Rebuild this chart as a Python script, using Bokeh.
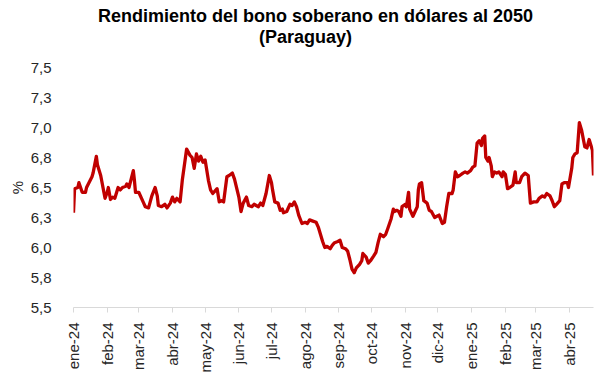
import math
import pandas as pd
from bokeh.plotting import figure
from bokeh.layouts import column
from bokeh.models import FixedTicker, Range1d, ColumnDataSource, Label
from bokeh.embed import file_html
from bokeh.resources import INLINE

start_date = "2024-01-01"

# days since 2024-01-01
day_offset = [
    0, 1, 4, 5, 8, 11, 12, 17, 18, 21,
    22, 25, 29, 31, 32, 34, 36, 38, 41, 43,
    45, 48, 49, 51, 53, 55, 56, 57, 60, 64,
    66, 69, 72, 75, 77, 78, 81, 84, 86, 89,
    91, 93, 95, 98, 100, 104, 107, 109, 111, 113,
    115, 117, 119, 121, 124, 126, 128, 130, 132, 134,
    136, 138, 141, 143, 146, 148, 152, 154, 156, 159,
    161, 164, 166, 170, 172, 174, 177, 180, 182, 183,
    185, 188, 190, 192, 193, 196, 199, 201, 203, 205,
    207, 210, 213, 215, 217, 220, 223, 225, 227, 229,
    231, 233, 236, 238, 240, 243, 245, 247, 250, 252,
    254, 256, 258, 260, 263, 265, 266, 269, 271, 273,
    276, 278, 280, 282, 285, 287, 289, 292, 294, 295,
    297, 299, 301, 302, 305, 306, 308, 309, 312, 314,
    316, 317, 318, 320, 322, 325, 327, 329, 332, 334,
    336, 339, 341, 343, 345, 348, 349, 351, 353, 355,
    358, 360, 362, 365, 367, 369, 371, 373, 375, 376,
    378, 379, 381, 382, 384, 385, 387, 389, 391, 394,
    395, 397, 399, 401, 404, 406, 407, 410, 412, 415,
    418, 420, 423, 426, 428, 431, 433, 435, 438, 440,
    442, 444, 447, 449, 451, 454, 455, 458, 459, 461,
    463, 465, 467, 470, 472, 474, 477, 478,
]

yield_pct = [
    6.29, 6.49, 6.50, 6.54, 6.46, 6.46, 6.50, 6.59, 6.62, 6.76,
    6.69, 6.60, 6.41, 6.46, 6.50, 6.40, 6.42, 6.41, 6.50, 6.48,
    6.50, 6.51, 6.53, 6.50, 6.57, 6.64, 6.56, 6.46, 6.46, 6.38,
    6.34, 6.33, 6.43, 6.50, 6.43, 6.35, 6.34, 6.36, 6.33, 6.37,
    6.42, 6.38, 6.41, 6.38, 6.56, 6.82, 6.77, 6.75, 6.66, 6.78,
    6.72, 6.76, 6.71, 6.73, 6.56, 6.48, 6.45, 6.47, 6.49, 6.38,
    6.39, 6.38, 6.59, 6.60, 6.62, 6.57, 6.42, 6.30, 6.37, 6.42,
    6.35, 6.34, 6.36, 6.34, 6.37, 6.35, 6.45, 6.60, 6.54, 6.48,
    6.38, 6.37, 6.31, 6.32, 6.29, 6.30, 6.36, 6.35, 6.38, 6.34,
    6.27, 6.20, 6.21, 6.20, 6.23, 6.22, 6.21, 6.17, 6.11, 6.05,
    6.00, 6.01, 5.99, 6.02, 6.04, 6.05, 6.06, 6.00, 5.99, 5.97,
    5.90, 5.82, 5.79, 5.83, 5.86, 5.89, 5.95, 5.92, 5.87, 5.89,
    5.93, 5.96, 6.04, 6.11, 6.09, 6.11, 6.16, 6.24, 6.32, 6.30,
    6.31, 6.30, 6.26, 6.34, 6.36, 6.34, 6.46, 6.32, 6.26, 6.30,
    6.34, 6.48, 6.53, 6.54, 6.39, 6.37, 6.31, 6.30, 6.25, 6.26,
    6.27, 6.20, 6.21, 6.34, 6.45, 6.45, 6.48, 6.63, 6.59, 6.60,
    6.62, 6.63, 6.62, 6.64, 6.67, 6.68, 6.87, 6.89, 6.85, 6.91,
    6.93, 6.75, 6.72, 6.75, 6.68, 6.59, 6.63, 6.62, 6.63, 6.59,
    6.63, 6.61, 6.49, 6.50, 6.52, 6.63, 6.54, 6.54, 6.59, 6.62,
    6.60, 6.37, 6.38, 6.38, 6.41, 6.43, 6.42, 6.45, 6.43, 6.39,
    6.34, 6.36, 6.39, 6.53, 6.54, 6.54, 6.50, 6.66, 6.75, 6.78,
    6.79, 7.04, 6.98, 6.84, 6.83, 6.90, 6.81, 6.60,
]

month_ticks = [
    "2024-01-01", "2024-02-01", "2024-03-01", "2024-04-01", "2024-05-01",
    "2024-06-01", "2024-07-01", "2024-08-01", "2024-09-01", "2024-10-01",
    "2024-11-01", "2024-12-01", "2025-01-01", "2025-02-01", "2025-03-01",
    "2025-04-01",
]
month_labels = [
    "ene-24", "feb-24", "mar-24", "abr-24", "may-24", "jun-24", "jul-24",
    "ago-24", "sep-24", "oct-24", "nov-24", "dic-24", "ene-25", "feb-25",
    "mar-25", "abr-25",
]

y_ticks = [5.5, 5.75, 6.0, 6.25, 6.5, 6.75, 7.0, 7.25, 7.5]
y_labels = ["5,5", "5,8", "6,0", "6,3", "6,5", "6,8", "7,0", "7,3", "7,5"]

title_line1 = "Rendimiento del bono soberano en dólares al 2050"
title_line2 = "(Paraguay)"

FONT = "Liberation Sans"
TXT = "#262626"
W = 600
TITLE_H = 55
BORDER_L, BORDER_R = 73, 7

# ---------- title strip (its own small svg figure, no axes) ----------
# In a column, Bokeh aligns this frame with the chart frame below it,
# so its x range spans the same pixels as that frame.
pt = figure(width=W, height=TITLE_H,
            x_range=Range1d(BORDER_L, W - BORDER_R), y_range=Range1d(0, TITLE_H),
            x_axis_location=None, y_axis_location=None,
            output_backend="svg", toolbar_location=None, min_border=0)
pt.xgrid.visible = False
pt.ygrid.visible = False
pt.outline_line_color = None
for txt, xpos, ypos in ((title_line1, 315, 40), (title_line2, 305, 19)):
    pt.add_layout(Label(x=xpos, y=ypos, text=txt, text_align="center",
                        text_baseline="middle", text_font=FONT,
                        text_font_size="18px", text_font_style="bold",
                        text_color="#000000"))

# ---------- main chart ----------
dates = pd.Timestamp(start_date) + pd.to_timedelta(day_offset, unit="D")
src = ColumnDataSource(dict(date=dates, y=yield_pct))

def to_ms(ts):
    return int(pd.Timestamp(ts).value // 10**6)

x_start = to_ms(start_date)
x_end = to_ms(dates[-1])

p = figure(
    width=W, height=375 - TITLE_H,
    x_axis_type="datetime",
    x_range=Range1d(x_start, x_end),
    y_range=Range1d(y_ticks[0], y_ticks[-1]),
    output_backend="svg",
    toolbar_location=None,
    min_border_left=BORDER_L, min_border_right=BORDER_R,
    min_border_top=12, min_border_bottom=68,
)

p.line("date", "y", source=src, line_color="#C00000", line_width=3.3,
       line_join="round")

p.outline_line_color = None
p.xgrid.visible = False
p.ygrid.visible = False

# x axis
tick_ms = [to_ms(t) for t in month_ticks]
p.xaxis.ticker = FixedTicker(ticks=tick_ms)
p.xaxis.major_label_overrides = {t: lab for t, lab in zip(tick_ms, month_labels)}
p.xaxis.major_label_orientation = math.pi / 2
p.xaxis.axis_line_color = "#D9D9D9"
p.xaxis.major_tick_line_color = "#D9D9D9"
p.xaxis.major_tick_out = 5
p.xaxis.major_tick_in = 0
p.xaxis.minor_tick_line_color = None
p.xaxis.major_label_standoff = 10
p.xaxis.major_label_text_font = FONT
p.xaxis.major_label_text_font_size = "15px"
p.xaxis.major_label_text_color = TXT

# y axis
p.yaxis.ticker = FixedTicker(ticks=y_ticks)
p.yaxis.major_label_overrides = {t: lab for t, lab in zip(y_ticks, y_labels)}
p.yaxis.axis_line_color = None
p.yaxis.major_tick_line_color = None
p.yaxis.minor_tick_line_color = None
p.yaxis.major_label_standoff = 16
p.yaxis.major_label_text_font = FONT
p.yaxis.major_label_text_font_size = "15px"
p.yaxis.major_label_text_color = TXT
p.yaxis.axis_label = "%"
p.yaxis.axis_label_text_font = FONT
p.yaxis.axis_label_text_font_size = "15px"
p.yaxis.axis_label_text_font_style = "normal"
p.yaxis.axis_label_text_color = TXT
p.yaxis.axis_label_standoff = 2

layout = column(pt, p, spacing=0)
open("out.html", "w").write(file_html(layout, INLINE))
